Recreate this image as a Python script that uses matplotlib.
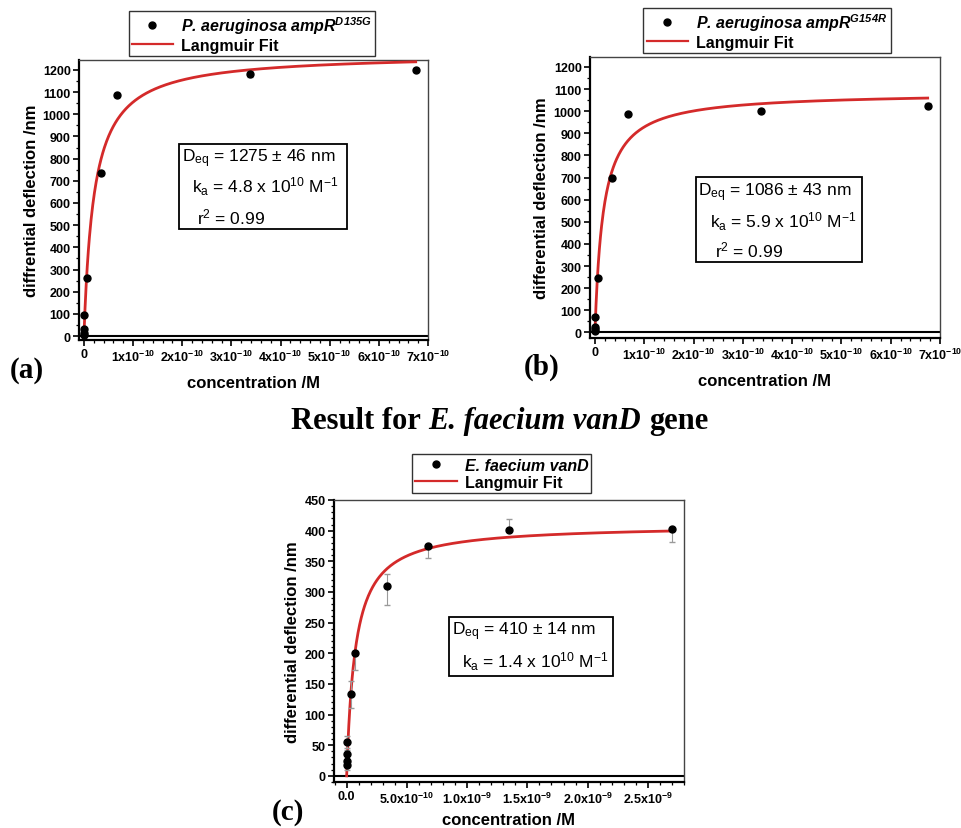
import numpy as np
import matplotlib
matplotlib.use("Agg")
import matplotlib.pyplot as plt
from matplotlib.patches import Rectangle
from matplotlib.lines import Line2D
from matplotlib.ticker import MultipleLocator, AutoMinorLocator

plt.rcParams['font.family'] = ['Liberation Sans', 'DejaVu Sans']
plt.rcParams['mathtext.fontset'] = 'custom'
plt.rcParams['mathtext.rm'] = 'Liberation Sans'
plt.rcParams['mathtext.it'] = 'Liberation Sans:italic'
plt.rcParams['mathtext.bf'] = 'Liberation Sans:bold'
plt.rcParams['mathtext.sf'] = 'Liberation Sans:italic:bold'

W, H = 962, 829

# ---- data ----
conc_a = [0, 6.75e-14, 3.375e-13, 6.75e-13, 6.75e-12, 3.375e-11, 6.75e-11, 3.375e-10, 6.75e-10]
defl_a = [5, 15, 30, 95, 262, 735, 1087, 1182, 1201]
err_a = [5, 5, 5, 8, 8, 10, 8, 15, 8]
deq_a, ka_a = 1275, 4.8e10

conc_b = [0, 6.75e-14, 3.375e-13, 6.75e-13, 6.75e-12, 3.375e-11, 6.75e-11, 3.375e-10, 6.75e-10]
defl_b = [5, 15, 25, 72, 248, 700, 986, 1001, 1025]
err_b = [5, 5, 5, 8, 8, 8, 8, 10, 10]
deq_b, ka_b = 1086, 5.9e10

conc_c = [0, 6.75e-13, 3.375e-12, 6.75e-12, 3.375e-11, 6.75e-11, 3.375e-10, 6.75e-10, 1.35e-9, 2.7e-9]
defl_c = [18, 25, 35, 55, 133, 200, 310, 375, 401, 402]
err_c_lo = [8, 10, 12, 10, 22, 28, 32, 20, 0, 21]
err_c_hi = [8, 10, 8, 10, 22, 0, 20, 0, 18, 0]
deq_c, ka_c = 410, 1.4e10

xt_a = [0, 1e-10, 2e-10, 3e-10, 4e-10, 5e-10, 6e-10, 7e-10]
xtl_a = ['0'] + [r'%dx10$^{\mathbf{-10}}$' % i for i in range(1, 8)]
xt_c = [0, 5e-10, 1e-9, 1.5e-9, 2e-9, 2.5e-9]
xtl_c = ['0.0', r'5.0x10$^{\mathbf{-10}}$', r'1.0x10$^{\mathbf{-9}}$',
         r'1.5x10$^{\mathbf{-9}}$', r'2.0x10$^{\mathbf{-9}}$', r'2.5x10$^{\mathbf{-9}}$']

RED = '#d42a2a'


def fx(x):
    return x / W


def fy(y):
    return 1 - y / H


def langmuir(c, deq, ka):
    return deq * ka * c / (1 + ka * c)


def make_axes(l, t, r, b):
    return fig.add_axes([fx(l), fy(b), (r - l) / W, (b - t) / H])


def style(ax, xt, xtl, ystep, yminor, xminor):
    ax.set_xticks(xt)
    ax.set_xticklabels(xtl)
    ax.yaxis.set_major_locator(MultipleLocator(ystep))
    ax.yaxis.set_minor_locator(AutoMinorLocator(yminor))
    ax.xaxis.set_minor_locator(AutoMinorLocator(xminor))
    ax.tick_params(which='major', direction='out', length=4, width=1.2, labelsize=9, pad=2)
    ax.tick_params(which='minor', direction='out', length=2, width=0.9)
    for lab in ax.get_xticklabels() + ax.get_yticklabels():
        lab.set_fontweight('bold')
    for s in ['left', 'bottom']:
        ax.spines[s].set_linewidth(1.6)
        ax.spines[s].set_color('black')
    for s in ['top', 'right']:
        ax.spines[s].set_linewidth(1.0)
        ax.spines[s].set_color('#444444')
    ax.axhline(0, color='black', lw=1.5, zorder=1)


def draw(ax, conc, defl, elo, ehi, deq, ka, xmax):
    cc = np.linspace(0, xmax, 600)
    ax.plot(cc, langmuir(cc, deq, ka), color=RED, lw=2.0, zorder=3)
    ax.errorbar(conc, defl, yerr=[elo, ehi], fmt='o', color='black', ms=5,
                ecolor='#9a9a9a', elinewidth=0.8, capsize=2.5, capthick=1.0, zorder=4)


def legend(label, cx, cy):
    handles = [Line2D([], [], ls='none', marker='o', color='black', ms=5),
               Line2D([], [], color=RED, lw=1.6)]
    leg = fig.legend(handles, [label, 'Langmuir Fit'], loc='center',
                     bbox_to_anchor=(fx(cx), fy(cy)), frameon=True, fancybox=False,
                     edgecolor='black', fontsize=11.5, handlelength=2.6, handletextpad=0.5,
                     borderpad=0.2, labelspacing=0.15, borderaxespad=0)
    leg.get_frame().set_linewidth(1.0)
    for i, t in enumerate(leg.get_texts()):
        t.set_fontweight('bold')
        if i == 0:
            t.set_style('italic')
    return leg


def textbox(l, t, r, b, lines):
    fig.patches.append(Rectangle((fx(l), fy(b)), (r - l) / W, (b - t) / H,
                                 transform=fig.transFigure, fill=False,
                                 edgecolor='black', lw=1.3, zorder=5))
    for x, y, s in lines:
        fig.text(fx(x), fy(y), s, fontsize=12.5, ha='left', va='center')


fig = plt.figure(figsize=(W / 100, H / 100), dpi=100)

# ---- panel (a) ----
ax_a = make_axes(79, 61, 428, 341)
draw(ax_a, conc_a, defl_a, err_a, err_a, deq_a, ka_a, 6.75e-10)
ax_a.set_xlim(-1e-11, 7e-10)
ax_a.set_ylim(-18, 1245)
style(ax_a, xt_a, xtl_a, 100, 2, 5)
ax_a.set_xlabel('concentration /M', fontsize=12, fontweight='bold', labelpad=8)
ax_a.set_ylabel('diffrential deflection /nm', fontsize=12, fontweight='bold', labelpad=3)
legend(r'P. aeruginosa ampR$^{\mathsf{D135G}}$', 252, 34.5)
textbox(179, 145, 347, 230, [
    (182, 159, r'D$_{\mathrm{eq}}$ = 1275 ± 46 nm'),
    (192, 187, r'k$_{\mathrm{a}}$ = 4.8 x 10$^{\mathrm{10}}$ M$^{\mathrm{-1}}$'),
    (197, 217, r'r$^{\mathrm{2}}$ = 0.99'),
])

# ---- panel (b) ----
ax_b = make_axes(590, 58, 940, 339)
draw(ax_b, conc_b, defl_b, err_b, err_b, deq_b, ka_b, 6.75e-10)
ax_b.set_xlim(-1e-11, 7e-10)
ax_b.set_ylim(-25, 1245)
style(ax_b, xt_a, xtl_a, 100, 2, 5)
ax_b.set_xlabel('concentration /M', fontsize=12, fontweight='bold', labelpad=8)
ax_b.set_ylabel('differential deflection /nm', fontsize=12, fontweight='bold', labelpad=3)
legend(r'P. aeruginosa ampR$^{\mathsf{G154R}}$', 767, 31.5)
textbox(696, 178, 862, 263, [
    (698, 193, r'D$_{\mathrm{eq}}$ = 1086 ± 43 nm'),
    (710, 222, r'k$_{\mathrm{a}}$ = 5.9 x 10$^{\mathrm{10}}$ M$^{\mathrm{-1}}$'),
    (715, 250, r'r$^{\mathrm{2}}$ = 0.99'),
])

# ---- panel (c) ----
ax_c = make_axes(334, 501, 684, 783)
draw(ax_c, conc_c, defl_c, err_c_lo, err_c_hi, deq_c, ka_c, 2.7e-9)
ax_c.set_xlim(-1.05e-10, 2.8e-9)
ax_c.set_ylim(-10, 450)
style(ax_c, xt_c, xtl_c, 50, 5, 5)
ax_c.set_xlabel('concentration /M', fontsize=12, fontweight='bold', labelpad=5)
ax_c.set_ylabel('differential deflection /nm', fontsize=12, fontweight='bold', labelpad=3)
legend('E. faecium vanD', 501.7, 474.7)
textbox(449, 618, 613, 677, [
    (452, 632, r'D$_{\mathrm{eq}}$ = 410 ± 14 nm'),
    (462, 662, r'k$_{\mathrm{a}}$ = 1.4 x 10$^{\mathrm{10}}$ M$^{\mathrm{-1}}$'),
])

# panel letters
for s, x, y in [('(a)', 27, 370), ('(b)', 542, 367), ('(c)', 288, 813)]:
    fig.text(fx(x), fy(y), s, fontsize=21, fontweight='bold', family='Liberation Serif',
             ha='center', va='center')

# title with mixed italic
r = fig.canvas.get_renderer()
parts = [('Result for', 'normal'), ('E. faecium vanD', 'italic'), ('gene', 'normal')]
tts = [fig.text(0, fy(421.7), s, fontsize=22, fontweight='bold', style=st,
                family='Liberation Serif', ha='left', va='center') for s, st in parts]
ws = [t.get_window_extent(r).width for t in tts]
gap = 22 * 0.25 * 100 / 72
x0 = 499.5 - (sum(ws) + gap * 2) / 2
for t, w in zip(tts, ws):
    t.set_x(fx(x0))
    x0 += w + gap

fig.savefig('out.png', dpi=100)
